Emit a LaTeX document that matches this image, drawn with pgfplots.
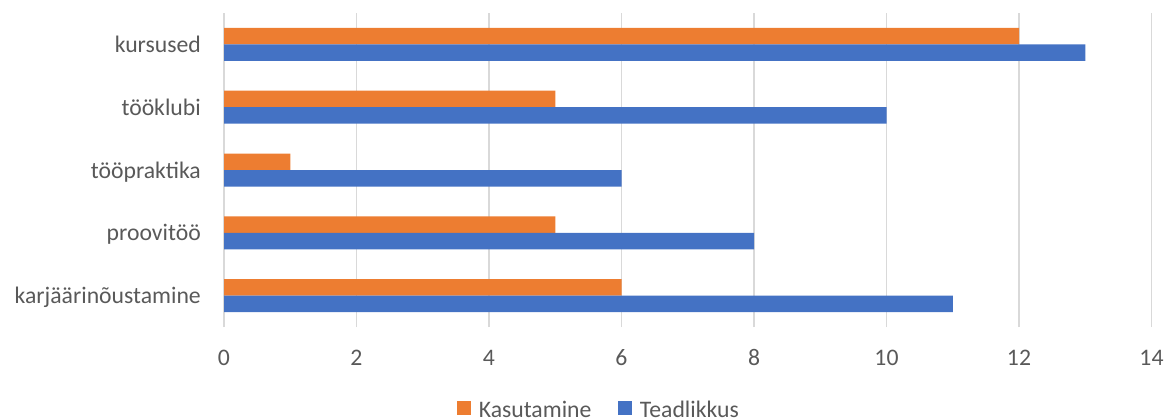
\documentclass[border=0pt]{standalone}
\usepackage{pgfplots}
\pgfplotsset{compat=1.18}
\usepackage{fontspec}
\setmainfont{Carlito}
\definecolor{cOrange}{HTML}{ED7D31}
\definecolor{cBlue}{HTML}{4472C4}
\definecolor{cGrid}{HTML}{D9D9D9}
\definecolor{cText}{HTML}{595959}
\begin{document}
\begin{tikzpicture}[font=\fontsize{23.7bp}{28bp}\selectfont]
\path[use as bounding box] (0,0) rectangle (1165bp,419bp);
\begin{axis}[
 at={(224bp,92bp)}, anchor=south west,
 scale only axis, width=927.5bp, height=314bp,
 xmin=0, xmax=14, ymin=-0.5, ymax=4.5,
 xtick={0,2,...,14}, ytick={0,...,4},
 yticklabels={karjäärinõustamine,proovitöö,tööpraktika,tööklubi,kursused},
 xmajorgrids, ymajorgrids=false,
 major grid style={cGrid, line width=1.2bp},
 axis line style={draw=none}, major tick length=0pt,
 /pgf/number format/assume math mode=true,
 tick label style={text=cText, font=\fontsize{23.7bp}{28bp}\selectfont},
 xticklabel style={anchor=base, yshift=-38bp, inner sep=0pt},
 yticklabel style={anchor=base east, xshift=-23bp, yshift=-8bp, inner sep=0pt},
 xbar, bar width=16.5bp,
 legend columns=2,
 legend style={draw=none, fill=none, at={(0.4049,-0.2643)}, anchor=center,
   text=cText, font=\fontsize{23.7bp}{28bp}\selectfont,
   nodes={inner sep=3bp},
   /tikz/every even column/.append style={column sep=24bp}},
 legend image code/.code={\fill[#1] (0bp,-4.6bp) rectangle (13.5bp,8.9bp); \path (18.5bp,0bp);},
]
\addplot[fill=cOrange, draw=none, bar shift=8.25bp] coordinates {(6,0) (5,1) (1,2) (5,3) (12,4)};
\addlegendentry{Kasutamine}
\addplot[fill=cBlue, draw=none, bar shift=-8.25bp] coordinates {(11,0) (8,1) (6,2) (10,3) (13,4)};
\addlegendentry{Teadlikkus}
\end{axis}
\end{tikzpicture}
\end{document}
